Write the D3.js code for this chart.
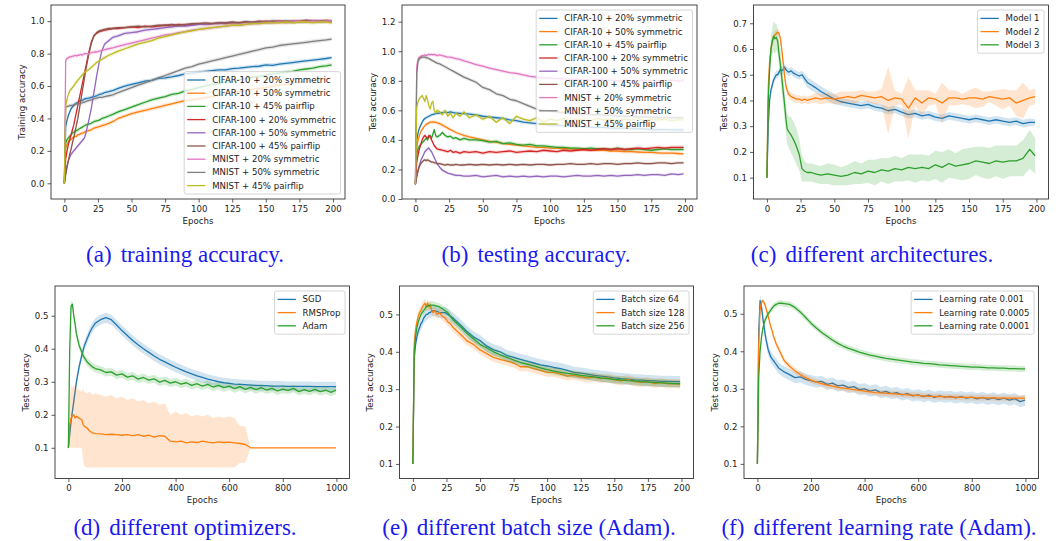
<!DOCTYPE html>
<html>
<head>
<meta charset="utf-8">
<script src="https://cdn.jsdelivr.net/npm/d3@7"></script>
<style>
  body { margin: 0; background: #fff; }
  svg { display: block; }
</style>
</head>
<body>
<script>
// ---- shared x grids ----
var epochs200 = [0,1,2,3,4,5,6,7,8,9,10,11,12,13,14,15,16,
  18,20,22,24,26,28,30, 33,36,
  40,45,50,55,60,65,70,75,80,85,90,95,100,105,110,115,120,125,130,135,140,145,150,155,160,165,170,175,180,185,190,195,
  199];
var epochs1000 = [0,5,10,15,20,25,30,40,50,55,60,70,80,90,100,
  120,140,160,180,200,220,240,260,280,300,320,340,360,380,400,420,440,460,480,500,
  520,540,560,580,600,620,640,660,680,700,720,740,760,780,800,820,840,860,880,900,
  920,940,960,980,999];

var ticks200 = [0,25,50,75,100,125,150,175,200];
var ticks1000 = [0,200,400,600,800,1000];

var noiseNames = ["CIFAR-10 + 20% symmetric","CIFAR-10 + 50% symmetric","CIFAR-10 + 45% pairflip",
  "CIFAR-100 + 20% symmetric","CIFAR-100 + 50% symmetric","CIFAR-100 + 45% pairflip",
  "MNIST + 20% symmetric","MNIST + 50% symmetric","MNIST + 45% pairflip"];
var modelNames = ["Model 1","Model 2","Model 3"];
var optNames = ["SGD","RMSProp","Adam"];
var batchNames = ["Batch size 64","Batch size 128","Batch size 256"];
var lrNames = ["Learning rate 0.001","Learning rate 0.0005","Learning rate 0.0001"];

var colors = ["#1f77b4","#ff7f0e","#2ca02c","#d62728","#9467bd","#8c564b","#e377c2","#7f7f7f","#bcbd22"];

// ---- (a) training accuracy ----
var trainC10s20 = [0.00,0.35,0.39,0.42,0.44,0.46,0.47,0.48,0.49,0.495,0.50,0.505,0.51,0.512,0.515,0.52,0.522,
  0.525,0.53,0.535,0.54,0.548,0.552,0.56, 0.565,0.572,
  0.585,0.60,0.61,0.62,0.63,0.635,0.648,0.65,0.657,0.665,0.675,0.68,0.685,0.69,0.695,0.70,0.70,0.707,0.71,0.715,0.72,0.722,0.73,0.728,0.735,0.74,0.745,0.75,0.755,0.76,0.765,0.77,
  0.775];
var trainC10s50 = [0.00,0.22,0.24,0.26,0.265,0.27,0.28,0.285,0.29,0.29,0.30,0.30,0.305,0.31,0.31,0.315,0.32,
  0.325,0.33,0.34,0.345,0.35,0.355,0.36, 0.37,0.38,
  0.40,0.415,0.43,0.44,0.45,0.46,0.47,0.48,0.49,0.50,0.51,0.515,0.52,0.53,0.535,0.545,0.55,0.56,0.565,0.57,0.58,0.585,0.59,0.60,0.605,0.61,0.62,0.625,0.63,0.635,0.64,0.645,
  0.65];
var trainC10pf = [0.00,0.25,0.27,0.28,0.29,0.30,0.31,0.315,0.32,0.325,0.33,0.335,0.34,0.345,0.35,0.355,0.36,
  0.365,0.37,0.38,0.385,0.39,0.40,0.405, 0.415,0.425,
  0.44,0.455,0.47,0.485,0.50,0.515,0.525,0.535,0.548,0.555,0.57,0.58,0.59,0.60,0.61,0.615,0.625,0.63,0.64,0.645,0.655,0.66,0.667,0.675,0.68,0.685,0.69,0.70,0.705,0.71,0.72,0.725,
  0.73];
var trainC100s20 = [0.00,0.15,0.20,0.24,0.27,0.30,0.33,0.36,0.40,0.44,0.48,0.52,0.56,0.60,0.64,0.68,0.72,
  0.80,0.87,0.91,0.925,0.935,0.94,0.945, 0.95,0.955,
  0.955,0.96,0.965,0.96,0.97,0.965,0.97,0.975,0.97,0.98,0.975,0.98,0.985,0.98,0.985,0.99,0.985,0.99,0.99,0.995,0.99,0.995,1.0,0.995,1.0,0.995,1.0,1.0,1.005,1.0,1.0,1.005,
  1.0];
var trainC100s50 = [0.00,0.07,0.11,0.14,0.16,0.18,0.19,0.20,0.21,0.22,0.23,0.24,0.25,0.26,0.27,0.28,0.31,
  0.38,0.46,0.56,0.66,0.75,0.82,0.86, 0.88,0.90,
  0.91,0.925,0.93,0.935,0.945,0.95,0.955,0.96,0.965,0.97,0.97,0.975,0.98,0.98,0.985,0.985,0.99,0.99,0.99,0.995,0.99,0.995,0.995,1.0,0.995,1.0,1.0,0.995,1.0,1.0,1.0,1.0,
  1.0];
var trainC100pf = [0.00,0.05,0.10,0.14,0.18,0.21,0.25,0.28,0.32,0.36,0.40,0.45,0.50,0.55,0.60,0.65,0.70,
  0.79,0.86,0.91,0.93,0.94,0.945,0.95, 0.955,0.955,
  0.96,0.96,0.965,0.97,0.965,0.97,0.975,0.975,0.98,0.975,0.98,0.985,0.985,0.99,0.985,0.99,0.99,0.995,0.99,0.995,0.995,1.0,0.995,1.0,1.0,1.0,0.995,1.0,1.005,1.0,1.0,1.0,
  0.995];
var trainMns20 = [0.00,0.76,0.77,0.775,0.78,0.78,0.785,0.785,0.79,0.785,0.79,0.79,0.795,0.79,0.795,0.80,0.80,
  0.80,0.805,0.81,0.81,0.815,0.82,0.825, 0.83,0.835,
  0.845,0.855,0.865,0.875,0.885,0.895,0.905,0.915,0.92,0.93,0.935,0.945,0.95,0.955,0.96,0.965,0.97,0.975,0.975,0.98,0.985,0.985,0.99,0.99,0.995,0.99,0.995,1.0,0.995,1.0,0.995,1.0,
  1.0];
var trainMns50 = [0.00,0.47,0.475,0.475,0.48,0.48,0.48,0.485,0.485,0.49,0.49,0.49,0.495,0.495,0.50,0.50,0.505,
  0.51,0.515,0.52,0.525,0.53,0.53,0.535, 0.54,0.545,
  0.56,0.575,0.59,0.605,0.62,0.635,0.65,0.665,0.68,0.695,0.71,0.72,0.735,0.745,0.755,0.765,0.775,0.785,0.795,0.805,0.815,0.825,0.835,0.84,0.85,0.855,0.86,0.865,0.87,0.875,0.88,0.885,
  0.89];
var trainMnpf = [0.00,0.48,0.52,0.55,0.57,0.58,0.59,0.60,0.615,0.625,0.635,0.645,0.655,0.665,0.675,0.685,0.69,
  0.70,0.715,0.73,0.745,0.755,0.765,0.775, 0.79,0.80,
  0.815,0.83,0.845,0.86,0.87,0.88,0.895,0.905,0.915,0.925,0.935,0.94,0.95,0.955,0.96,0.965,0.97,0.975,0.975,0.98,0.985,0.985,0.99,0.99,0.99,0.995,0.99,0.995,0.995,0.99,0.995,0.995,
  0.99];
var trainSpread = [0.012,0.012,0.012,0.01,0.012,0.01,0.012,0.012,0.012];

// ---- (b) testing accuracy ----
var testC10s20 = [0.10,0.40,0.45,0.48,0.50,0.52,0.535,0.545,0.55,0.555,0.56,0.565,0.57,0.572,0.575,0.578,0.58,
  0.582,0.585,0.588,0.585,0.59,0.585,0.582, 0.58,0.578,
  0.575,0.57,0.56,0.555,0.55,0.545,0.535,0.53,0.52,0.515,0.51,0.505,0.50,0.50,0.495,0.495,0.49,0.49,0.485,0.485,0.485,0.48,0.48,0.48,0.475,0.475,0.475,0.47,0.47,0.47,0.468,0.468,
  0.466];
var testC10s50 = [0.10,0.35,0.40,0.43,0.455,0.47,0.485,0.495,0.505,0.51,0.515,0.52,0.52,0.522,0.52,0.518,0.515,
  0.51,0.50,0.49,0.48,0.47,0.46,0.45, 0.44,0.43,
  0.42,0.41,0.40,0.39,0.385,0.375,0.37,0.365,0.36,0.355,0.35,0.35,0.345,0.345,0.34,0.34,0.335,0.335,0.33,0.33,0.33,0.325,0.325,0.32,0.32,0.318,0.315,0.315,0.312,0.31,0.31,0.308,
  0.305];
var testC10pf = [0.10,0.30,0.34,0.36,0.37,0.38,0.39,0.40,0.41,0.40,0.42,0.43,0.41,0.44,0.47,0.43,0.42,
  0.43,0.45,0.43,0.42,0.425,0.41,0.415, 0.40,0.41,
  0.40,0.40,0.395,0.385,0.39,0.375,0.38,0.37,0.365,0.37,0.36,0.36,0.355,0.35,0.35,0.345,0.345,0.34,0.345,0.34,0.34,0.335,0.345,0.335,0.335,0.34,0.335,0.33,0.335,0.34,0.335,0.335,
  0.335];
var testC100s20 = [0.10,0.25,0.30,0.34,0.37,0.40,0.42,0.43,0.42,0.41,0.43,0.42,0.40,0.38,0.36,0.35,0.34,
  0.335,0.33,0.325,0.32,0.33,0.315,0.32, 0.31,0.32,
  0.315,0.32,0.31,0.32,0.315,0.32,0.325,0.315,0.32,0.325,0.32,0.33,0.325,0.32,0.33,0.325,0.33,0.335,0.33,0.335,0.34,0.335,0.34,0.335,0.34,0.345,0.34,0.345,0.35,0.345,0.35,0.35,
  0.35];
var testC100s50 = [0.10,0.16,0.20,0.23,0.26,0.28,0.30,0.32,0.33,0.34,0.345,0.33,0.32,0.30,0.28,0.26,0.24,
  0.215,0.195,0.185,0.175,0.17,0.165,0.16, 0.16,0.155,
  0.155,0.16,0.15,0.155,0.16,0.15,0.155,0.15,0.155,0.15,0.155,0.15,0.155,0.155,0.15,0.155,0.16,0.155,0.155,0.16,0.155,0.16,0.155,0.16,0.16,0.165,0.16,0.165,0.165,0.16,0.17,0.165,
  0.17];
var testC100pf = [0.10,0.15,0.19,0.22,0.24,0.25,0.26,0.265,0.26,0.265,0.26,0.255,0.25,0.25,0.245,0.245,0.24,
  0.24,0.235,0.23,0.235,0.23,0.23,0.235, 0.23,0.23,
  0.235,0.23,0.235,0.23,0.235,0.23,0.235,0.23,0.235,0.23,0.235,0.235,0.23,0.235,0.235,0.24,0.235,0.235,0.24,0.235,0.24,0.24,0.235,0.24,0.24,0.245,0.24,0.24,0.245,0.245,0.24,0.245,
  0.245];
var testMns20 = [0.10,0.90,0.95,0.96,0.965,0.97,0.97,0.975,0.97,0.975,0.98,0.975,0.98,0.975,0.98,0.975,0.97,
  0.975,0.97,0.965,0.96,0.96,0.955,0.95, 0.945,0.935,
  0.925,0.91,0.90,0.885,0.875,0.865,0.855,0.85,0.84,0.83,0.825,0.82,0.82,0.815,0.815,0.81,0.81,0.81,0.805,0.81,0.805,0.805,0.80,0.805,0.80,0.80,0.805,0.80,0.80,0.80,0.805,0.80,
  0.80];
var testMns50 = [0.10,0.85,0.93,0.95,0.955,0.96,0.96,0.96,0.955,0.955,0.95,0.945,0.94,0.935,0.93,0.925,0.92,
  0.915,0.905,0.895,0.885,0.875,0.865,0.855, 0.84,0.825,
  0.81,0.79,0.755,0.74,0.712,0.70,0.675,0.665,0.645,0.627,0.608,0.60,0.595,0.59,0.585,0.58,0.575,0.577,0.57,0.572,0.565,0.567,0.56,0.562,0.56,0.555,0.557,0.555,0.55,0.552,0.55,0.55,
  0.55];
var testMnpf = [0.10,0.62,0.66,0.68,0.69,0.70,0.68,0.66,0.70,0.67,0.63,0.61,0.65,0.66,0.60,0.58,0.60,
  0.59,0.57,0.60,0.56,0.58,0.55,0.58, 0.56,0.59,
  0.55,0.57,0.54,0.56,0.52,0.55,0.51,0.56,0.54,0.53,0.55,0.52,0.54,0.53,0.545,0.53,0.54,0.535,0.53,0.545,0.535,0.54,0.53,0.54,0.535,0.545,0.53,0.54,0.535,0.54,0.53,0.535,
  0.535];
var testSpread = [0.012,0.012,0.012,0.012,0.01,0.01,0.012,0.012,0.012];

// ---- (c) different architectures ----
var archModel1 = [0.10,0.30,0.40,0.44,0.46,0.48,0.49,0.50,0.50,0.51,0.52,0.515,0.52,0.53,0.52,0.515,0.51,
  0.515,0.505,0.50,0.495,0.50,0.485,0.47, 0.46,0.45,
  0.435,0.42,0.405,0.395,0.39,0.385,0.38,0.385,0.375,0.37,0.36,0.365,0.355,0.345,0.35,0.34,0.345,0.335,0.33,0.34,0.335,0.33,0.325,0.33,0.325,0.32,0.325,0.32,0.315,0.32,0.31,0.315,
  0.315];
var archModel2 = [0.10,0.45,0.55,0.60,0.63,0.645,0.655,0.66,0.665,0.66,0.64,0.60,0.55,0.50,0.46,0.44,0.425,
  0.415,0.41,0.405,0.405,0.40,0.405,0.40, 0.405,0.41,
  0.405,0.41,0.405,0.41,0.415,0.41,0.42,0.415,0.41,0.415,0.40,0.41,0.405,0.37,0.41,0.39,0.41,0.405,0.39,0.41,0.41,0.405,0.41,0.41,0.405,0.415,0.41,0.405,0.41,0.39,0.40,0.41,
  0.415];
var archModel3 = [0.10,0.40,0.52,0.60,0.63,0.65,0.64,0.645,0.63,0.58,0.54,0.49,0.44,0.39,0.335,0.29,0.28,
  0.265,0.245,0.22,0.19,0.135,0.125,0.12, 0.12,0.115,
  0.11,0.115,0.11,0.105,0.11,0.12,0.115,0.125,0.12,0.13,0.125,0.135,0.13,0.14,0.135,0.14,0.135,0.15,0.14,0.155,0.145,0.15,0.155,0.165,0.16,0.155,0.165,0.16,0.165,0.165,0.175,0.21,
  0.185];
var archSpread1 = [0,0.01,0.015,0.015,0.015,0.015,0.015,0.015,0.015,0.015,0.015,0.015,0.015,0.015,0.015,0.015,0.015,
  0.015,0.015,0.015,0.015,0.015,0.02,0.02, 0.02,0.02,
  0.02,0.02,0.02,0.015,0.015,0.015,0.015,0.015,0.015,0.015,0.015,0.015,0.015,0.015,0.015,0.015,0.015,0.015,0.015,0.015,0.015,0.015,0.015,0.015,0.015,0.015,0.015,0.015,0.015,0.015,0.015,0.015,
  0.012];
var archSpread2 = [0,0.02,0.02,0.02,0.02,0.015,0.015,0.015,0.015,0.015,0.02,0.02,0.02,0.02,0.015,0.015,0.015,
  0.015,0.015,0.015,0.015,0.015,0.015,0.015, 0.015,0.02,
  0.02,0.02,0.02,0.025,0.02,0.025,0.02,0.02,0.025,0.03,0.13,0.03,0.02,0.12,0.03,0.05,0.03,0.02,0.08,0.03,0.03,0.02,0.03,0.04,0.03,0.02,0.03,0.04,0.03,0.05,0.07,0.03,
  0.03];
var archSpread3 = [0,0.03,0.04,0.05,0.05,0.06,0.06,0.05,0.05,0.05,0.06,0.06,0.06,0.06,0.06,0.06,0.06,
  0.07,0.07,0.07,0.06,0.05,0.04,0.035, 0.035,0.035,
  0.035,0.04,0.04,0.035,0.04,0.045,0.04,0.045,0.05,0.045,0.05,0.05,0.045,0.05,0.055,0.05,0.05,0.055,0.06,0.055,0.05,0.06,0.06,0.055,0.06,0.06,0.06,0.065,0.06,0.06,0.07,0.075,
  0.07];

// ---- (d) different optimizers ----
var optSGD = [0.10,0.14,0.18,0.21,0.24,0.27,0.30,0.345,0.38,0.395,0.41,0.43,0.45,0.465,0.477,
  0.488,0.494,0.488,0.472,0.455,0.44,0.425,0.412,0.40,0.389,
  0.378,0.368,0.36,0.352,0.344,0.337,0.33,0.324,0.318,0.313,
  0.308,0.304,0.30,0.297,0.295,0.293,0.292,0.291,0.29,0.289,
  0.288,0.288,0.287,0.287,0.287,0.286,0.286,0.286,0.286,0.286,
  0.285,0.285,0.285,0.285,
  0.285];
var optRMS = [0.10,0.17,0.19,0.195,0.20,0.19,0.195,0.19,0.185,0.17,0.165,0.16,0.15,0.145,0.143,
  0.142,0.14,0.141,0.14,0.138,0.14,0.137,0.14,0.135,0.138,
  0.132,0.137,0.135,0.12,0.118,0.12,0.115,0.118,0.116,0.12,
  0.117,0.115,0.118,0.116,0.117,0.115,0.113,0.11,0.10,0.10,
  0.10,0.10,0.10,0.10,0.10,0.10,0.10,0.10,0.10,0.10,
  0.10,0.10,0.10,0.10,
  0.10];
var optRMSLow = [0.10,0.10,0.10,0.10,0.10,0.10,0.10,0.10,0.10,0.06,0.045,0.04,0.04,0.04,0.04,
  0.04,0.04,0.04,0.04,0.04,0.04,0.04,0.04,0.04,0.04,
  0.04,0.04,0.04,0.04,0.04,0.04,0.04,0.04,0.04,0.04,
  0.04,0.04,0.04,0.04,0.04,0.04,0.055,0.055,0.10,0.10,
  0.10,0.10,0.10,0.10,0.10,0.10,0.10,0.10,0.10,0.10,
  0.10,0.10,0.10,0.10,
  0.10];
var optRMSHigh = [0.10,0.25,0.29,0.28,0.29,0.285,0.28,0.275,0.27,0.28,0.27,0.265,0.27,0.26,0.265,
  0.26,0.255,0.26,0.25,0.255,0.245,0.25,0.24,0.245,0.235,
  0.24,0.23,0.235,0.20,0.21,0.20,0.205,0.195,0.20,0.195,
  0.20,0.19,0.195,0.19,0.195,0.19,0.165,0.165,0.10,0.10,
  0.10,0.10,0.10,0.10,0.10,0.10,0.10,0.10,0.10,0.10,
  0.10,0.10,0.10,0.10,
  0.10];
var optAdam = [0.10,0.40,0.53,0.535,0.50,0.475,0.445,0.41,0.39,0.38,0.372,0.36,0.352,0.345,0.34,
  0.336,0.328,0.33,0.32,0.324,0.314,0.318,0.308,0.313,0.305,
  0.309,0.299,0.304,0.296,0.30,0.293,0.297,0.289,0.294,0.287,
  0.292,0.284,0.289,0.282,0.287,0.279,0.285,0.277,0.283,0.276,
  0.282,0.275,0.28,0.272,0.278,0.274,0.28,0.27,0.276,0.271,
  0.277,0.27,0.275,0.268,
  0.275];

// ---- (e) different batch size ----
var batch64 = [0.10,0.38,0.42,0.44,0.455,0.465,0.475,0.48,0.49,0.495,0.50,0.50,0.505,0.505,0.51,0.51,0.51,
  0.508,0.505,0.505,0.505,0.50,0.495,0.49, 0.48,0.47,
  0.455,0.44,0.43,0.415,0.405,0.40,0.39,0.385,0.38,0.375,0.37,0.365,0.362,0.358,0.355,0.35,0.345,0.343,0.34,0.337,0.335,0.333,0.33,0.328,0.327,0.325,0.324,0.323,0.322,0.321,0.321,0.32,
  0.32];
var batch128 = [0.10,0.42,0.46,0.48,0.495,0.505,0.51,0.52,0.525,0.53,0.52,0.53,0.52,0.525,0.51,0.505,0.51,
  0.50,0.505,0.495,0.49,0.48,0.475,0.465, 0.455,0.445,
  0.43,0.42,0.405,0.395,0.385,0.38,0.375,0.37,0.36,0.36,0.355,0.35,0.345,0.345,0.34,0.335,0.337,0.333,0.33,0.332,0.328,0.33,0.325,0.322,0.326,0.32,0.318,0.32,0.315,0.318,0.314,0.315,
  0.313];
var batch256 = [0.10,0.40,0.44,0.465,0.48,0.49,0.50,0.505,0.51,0.515,0.52,0.522,0.524,0.525,0.525,0.525,0.524,
  0.522,0.52,0.515,0.51,0.505,0.495,0.485, 0.475,0.465,
  0.45,0.435,0.42,0.41,0.40,0.392,0.385,0.378,0.372,0.367,0.362,0.357,0.352,0.348,0.345,0.342,0.34,0.337,0.335,0.333,0.33,0.328,0.326,0.325,0.323,0.322,0.32,0.319,0.318,0.317,0.316,0.315,
  0.315];
var batchSpread = [0.015,0.012,0.01];

// ---- (f) different learning rate ----
var lr001 = [0.10,0.45,0.535,0.52,0.49,0.465,0.44,0.405,0.385,0.38,0.375,0.365,0.355,0.35,0.345,
  0.338,0.33,0.332,0.325,0.322,0.318,0.32,0.312,0.315,0.308,
  0.31,0.303,0.306,0.298,0.30,0.294,0.297,0.29,0.293,0.287,
  0.29,0.284,0.287,0.281,0.284,0.279,0.283,0.277,0.281,0.278,
  0.28,0.276,0.279,0.275,0.278,0.273,0.277,0.272,0.276,0.271,
  0.275,0.27,0.274,0.266,
  0.27];
var lr0005 = [0.10,0.42,0.51,0.53,0.535,0.53,0.52,0.495,0.465,0.455,0.44,0.42,0.405,0.39,0.375,
  0.36,0.348,0.338,0.33,0.323,0.318,0.314,0.31,0.307,0.304,
  0.302,0.30,0.298,0.296,0.294,0.292,0.29,0.289,0.288,0.287,
  0.286,0.285,0.284,0.283,0.282,0.281,0.28,0.28,0.279,0.279,
  0.278,0.278,0.277,0.277,0.277,0.276,0.276,0.276,0.276,0.275,
  0.275,0.275,0.275,0.275,
  0.275];
var lr0001 = [0.10,0.33,0.40,0.435,0.46,0.475,0.485,0.50,0.51,0.515,0.52,0.525,0.528,0.528,0.527,
  0.525,0.517,0.505,0.49,0.475,0.462,0.45,0.44,0.43,0.421,
  0.414,0.408,0.403,0.398,0.394,0.39,0.387,0.384,0.381,0.379,
  0.377,0.375,0.373,0.371,0.37,0.368,0.367,0.366,0.364,0.363,
  0.362,0.361,0.36,0.359,0.358,0.358,0.357,0.356,0.356,0.355,
  0.355,0.354,0.354,0.353,
  0.353];
var lrSpread = [0.015,0.008,0.008];

// ---- panel setup ----
var W = 1063, H = 541;
var svg = d3.select("body").append("svg").attr("width", W).attr("height", H);
var FONT = "'DejaVu Sans', sans-serif";

function band(vals, s) {
  return vals.map(function(v, i) {
    var d = Array.isArray(s) ? s[i] : s;
    return [v - d, v + d];
  });
}

var panels = [
  { rect: [51, 5, 345, 199], xd: [-9.95, 208.95], yd: [-0.097, 1.10], ep: epochs200, xt: ticks200,
    yt: [0, 0.2, 0.4, 0.6, 0.8, 1.0], ylab: "Training accuracy", legend: "lower",
    series: [trainC10s20, trainC10s50, trainC10pf, trainC100s20, trainC100s50, trainC100pf, trainMns20, trainMns50, trainMnpf]
      .map(function(v, i) { return { name: noiseNames[i], color: colors[i], vals: v, band: band(v, trainSpread[i]) }; }),
    cap: ["(a)", "training accuracy."], cx: 185, cy: 262 },
  { rect: [402, 5, 697, 199], xd: [-9.95, 208.95], yd: [0, 1.313], ep: epochs200, xt: ticks200,
    yt: [0, 0.2, 0.4, 0.6, 0.8, 1.0, 1.2], ylab: "Test accuracy", legend: "upper",
    series: [testC10s20, testC10s50, testC10pf, testC100s20, testC100s50, testC100pf, testMns20, testMns50, testMnpf]
      .map(function(v, i) { return { name: noiseNames[i], color: colors[i], vals: v, band: band(v, testSpread[i]) }; }),
    cap: ["(b)", "testing accuracy."], cx: 536, cy: 262 },
  { rect: [753.5, 5, 1048.5, 199], xd: [-9.95, 208.95], yd: [0.017, 0.771], ep: epochs200, xt: ticks200,
    yt: [0.1, 0.2, 0.3, 0.4, 0.5, 0.6, 0.7], ylab: "Test accuracy", legend: "upper",
    series: [[archModel1, archSpread1], [archModel2, archSpread2], [archModel3, archSpread3]]
      .map(function(p, i) { return { name: modelNames[i], color: colors[i], vals: p[0], band: band(p[0], p[1]) }; }),
    cap: ["(c)", "different architectures."], cx: 872, cy: 262 },
  { rect: [55, 286, 349.5, 478.5], xd: [-49.95, 1048.95], yd: [0.007, 0.59], ep: epochs1000, xt: ticks1000,
    yt: [0.1, 0.2, 0.3, 0.4, 0.5], ylab: "Test accuracy", legend: "upper",
    series: [
      { name: optNames[0], color: colors[0], vals: optSGD, band: band(optSGD, 0.015) },
      { name: optNames[1], color: colors[1], vals: optRMS, band: optRMSLow.map(function(v, i) { return [v, optRMSHigh[i]]; }) },
      { name: optNames[2], color: colors[2], vals: optAdam, band: band(optAdam, 0.012) }
    ],
    cap: ["(d)", "different optimizers."], cx: 185, cy: 535 },
  { rect: [399.5, 286, 693.5, 478.5], xd: [-9.95, 208.95], yd: [0.061, 0.576], ep: epochs200, xt: ticks200,
    yt: [0.1, 0.2, 0.3, 0.4, 0.5], ylab: "Test accuracy", legend: "upper",
    series: [batch64, batch128, batch256]
      .map(function(v, i) { return { name: batchNames[i], color: colors[i], vals: v, band: band(v, batchSpread[i]) }; }),
    cap: ["(e)", "different batch size (Adam)."], cx: 529, cy: 535 },
  { rect: [744, 286, 1038.5, 478.5], xd: [-49.95, 1048.95], yd: [0.061, 0.574], ep: epochs1000, xt: ticks1000,
    yt: [0.1, 0.2, 0.3, 0.4, 0.5], ylab: "Test accuracy", legend: "upper",
    series: [lr001, lr0005, lr0001]
      .map(function(v, i) { return { name: lrNames[i], color: colors[i], vals: v, band: band(v, lrSpread[i]) }; }),
    cap: ["(f)", "different learning rate (Adam)."], cx: 879, cy: 535 }
];

panels.forEach(function(p, k) {
  var l = p.rect[0], t = p.rect[1], r = p.rect[2], b = p.rect[3];
  var x = d3.scaleLinear().domain(p.xd).range([l, r]);
  var y = d3.scaleLinear().domain(p.yd).range([b, t]);
  var g = svg.append("g");

  svg.append("clipPath").attr("id", "clip" + k)
    .append("rect").attr("x", l).attr("y", t).attr("width", r - l).attr("height", b - t);
  var plot = g.append("g").attr("clip-path", "url(#clip" + k + ")");

  p.series.forEach(function(s) {
    var area = d3.area()
      .x(function(d, i) { return x(p.ep[i]); })
      .y0(function(d) { return y(d[0]); })
      .y1(function(d) { return y(d[1]); });
    plot.append("path").datum(s.band).attr("d", area)
      .attr("fill", s.color).attr("fill-opacity", 0.2).attr("stroke", "none");
    var line = d3.line()
      .x(function(d, i) { return x(p.ep[i]); })
      .y(function(d) { return y(d); });
    plot.append("path").datum(s.vals).attr("d", line)
      .attr("fill", "none").attr("stroke", s.color).attr("stroke-width", 1.3)
      .attr("stroke-linejoin", "round");
  });

  // axes
  var xa = g.append("g").attr("transform", "translate(0," + b + ")")
    .call(d3.axisBottom(x).tickValues(p.xt).tickSize(3.5).tickPadding(3).tickFormat(d3.format("d")));
  var ya = g.append("g").attr("transform", "translate(" + l + ",0)")
    .call(d3.axisLeft(y).tickValues(p.yt).tickSize(3.5).tickPadding(3).tickFormat(d3.format(".1f")));
  [xa, ya].forEach(function(a) {
    a.select(".domain").remove();
    a.attr("font-family", FONT).attr("font-size", 8.6);
    a.selectAll(".tick line").attr("stroke", "#333").attr("stroke-width", 0.8);
    a.selectAll(".tick text").attr("fill", "#222");
  });

  g.append("rect").attr("x", l).attr("y", t).attr("width", r - l).attr("height", b - t)
    .attr("fill", "none").attr("stroke", "#333").attr("stroke-width", 0.9);

  g.append("text").attr("x", (l + r) / 2).attr("y", b + 24.5)
    .attr("text-anchor", "middle").attr("font-family", FONT).attr("font-size", 8.6).attr("fill", "#222")
    .text("Epochs");
  g.append("text").attr("transform", "translate(" + (l - 29.5) + "," + ((t + b) / 2) + ") rotate(-90)")
    .attr("dy", "0.35em").attr("text-anchor", "middle").attr("font-family", FONT).attr("font-size", 8.6).attr("fill", "#222")
    .text(p.ylab);

  // legend
  var lg = g.append("g");
  var box = lg.append("rect");
  var texts = p.series.map(function(s, i) {
    return lg.append("text").attr("font-family", FONT).attr("font-size", 8.6).attr("fill", "#222")
      .attr("dy", "0.35em").text(s.name);
  });
  var maxW = d3.max(texts, function(tx) { return tx.node().getComputedTextLength(); });
  var bw = 28 + maxW + 4.5, bh = p.series.length * 13.2 + 3.6;
  var bx = r - 4.5 - bw;
  var by = p.legend === "upper" ? t + 5 : b - 5 - bh;
  box.attr("x", bx).attr("y", by).attr("width", bw).attr("height", bh).attr("rx", 2)
    .attr("fill", "#fff").attr("fill-opacity", 0.8).attr("stroke", "#ccc").attr("stroke-width", 0.8);
  p.series.forEach(function(s, i) {
    var ry = by + 8.4 + i * 13.2;
    lg.append("line").attr("x1", bx + 3).attr("x2", bx + 21.3).attr("y1", ry).attr("y2", ry)
      .attr("stroke", s.color).attr("stroke-width", 1.3);
    texts[i].attr("x", bx + 28).attr("y", ry);
  });

  // caption
  var cap = svg.append("text").attr("x", p.cx).attr("y", p.cy).attr("text-anchor", "middle")
    .attr("font-family", "'Liberation Serif', 'Times New Roman', serif").attr("font-size", 23).attr("fill", "#1a1aef");
  cap.append("tspan").text(p.cap[0]);
  cap.append("tspan").attr("dx", 9).text(p.cap[1]);
});
</script>
</body>
</html>
